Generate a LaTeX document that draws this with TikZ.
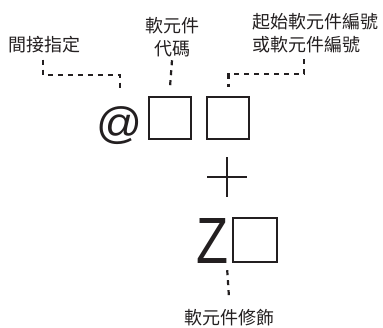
\documentclass[tikz,border=0pt]{standalone}
\usepackage{fontspec}
\usepackage{graphicx}
\setsansfont{Liberation Sans}
\newfontfamily\cjk{Noto Sans CJK TC}
\definecolor{ink}{HTML}{231F20}

\begin{document}
\begin{tikzpicture}[x=1pt,y=-1pt,
	tag/.style={font=\cjk\fontsize{18}{23.5}\selectfont, text=ink, inner sep=0pt},
	slot/.style={draw=ink, line width=2pt, minimum width=42pt, minimum height=42pt, inner sep=0pt},
	glyph/.style={font=\sffamily, text=ink, inner sep=0pt},
	leader/.style={draw=ink, line width=2.2pt, dash pattern=on 5pt off 5pt}]
	
	\useasboundingbox (0,0) rectangle (383,327);
	
	% Labels
	\node[tag] (indirect) at (45,45) {間接指定};
	\node[tag, align=center] (code) at (172,37) {軟元件\\代碼};
	\node[tag, align=left, anchor=west] (start) at (252,33) {起始軟元件編號\\或軟元件編號};
	\node[tag] (modifier) at (229,318) {軟元件修飾};
	
	% Device name
	\node[glyph] (at) at (120,126) {\resizebox*{46pt}{38pt}{@}};
	\node[slot] (box1) at (170,118) {};
	\node[slot] (box2) at (227.5,118) {};
	
	% Plus sign
	\coordinate (plus) at (227,177);
	\draw[ink, line width=2.4pt] ([xshift=-20pt]plus) -- ([xshift=20pt]plus);
	\draw[ink, line width=2.4pt] ([yshift=20pt]plus) -- ([yshift=-20pt]plus);
	
	% Modifier
	\node[glyph] (z) at (213,240.5) {\resizebox*{32pt}{45pt}{Z}};
	\node[slot, minimum width=44pt, minimum height=44pt] (box3) at (255,240) {};
	
	% Leaders
	\draw[leader] ([xshift=-2pt,yshift=-6pt]indirect.south) |- ([yshift=32pt]at.north) -- ([yshift=19pt]at.north);
	\draw[leader] ([yshift=-3pt]code.south) -- ([yshift=9pt]box1.north);
	\draw[leader] ([xshift=-11pt,yshift=-6pt]start.south) |- ([xshift=1pt,yshift=22pt]box2.north) -- ([xshift=1pt,yshift=9pt]box2.north);
	\draw[leader] ([xshift=-2pt,yshift=-7pt]z.south east) -- ([yshift=12pt]modifier.north);
	
\end{tikzpicture}
\end{document}
